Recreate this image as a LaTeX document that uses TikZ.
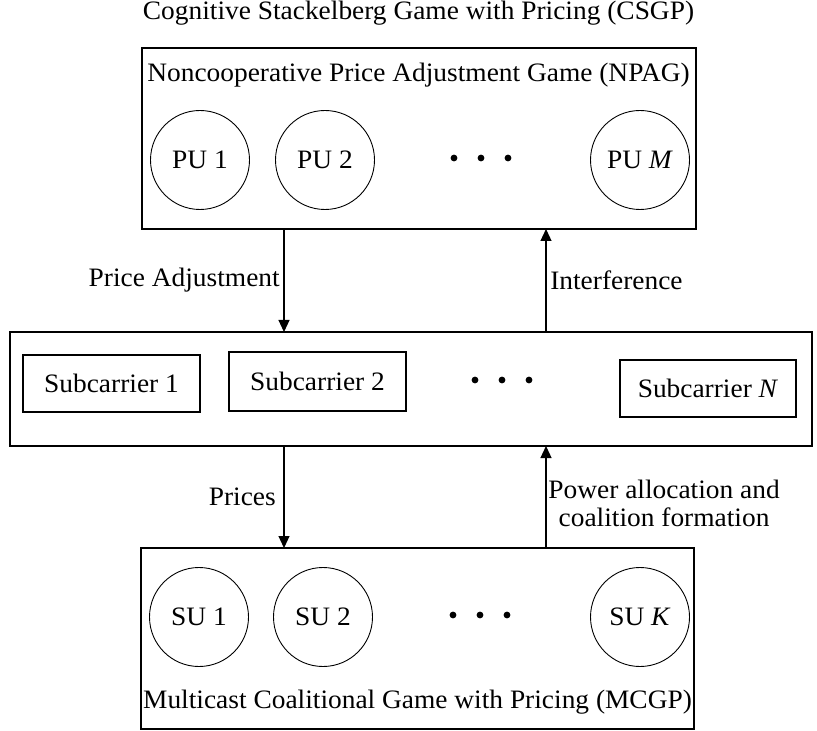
\documentclass[tikz,border=0pt]{standalone}
\usepackage{fontspec}
\setmainfont{Liberation Serif}[FakeStretch=1.03]
\usetikzlibrary{arrows.meta}
\begin{document}
\begin{tikzpicture}[x=0.5pt,y=-0.5pt,
    gamebox/.style={draw, line width=0.65pt, inner sep=0pt, outer sep=0pt},
    userc/.style={draw, circle, line width=0.45pt, minimum size=49.5pt, inner sep=0pt},
    subbox/.style={draw, line width=0.65pt, inner sep=0pt, outer sep=0pt, minimum width=88.5pt, minimum height=28.5pt},
    flow/.style={line width=0.6pt, -{Triangle[length=6pt,width=5.5pt]}},
    dotc/.style={circle, fill, inner sep=0pt, minimum size=3.4pt}]
\useasboundingbox (0,0) rectangle (817,731);%
{\fontsize{13.3}{15}\selectfont

% Drawing the leader game
\node (csgp) at (418.5,13) {Cognitive Stackelberg Game with Pricing (CSGP)};%
\node[gamebox, minimum width=277pt, minimum height=90.5pt] (npag) at (419,138.5) {};%
\node (npagt) at (418.5,75) {Noncooperative Price Adjustment Game (NPAG)};%
\node[userc] (pu1) at (200,160) {PU 1};%
\node[userc] (pu2) at (325,160) {PU 2};%
\node[dotc] (pd1) at (454,158) {};%
\node[dotc] (pd2) at (481,158) {};%
\node[dotc] (pd3) at (508,158) {};%
\node[userc] (pum) at (640,160) {PU \textit{M}};%

% Drawing the subcarriers
\node[gamebox, minimum width=401pt, minimum height=57pt] (sub) at (411,389) {};%
\node[subbox] (sub1) at (111.5,383.5) {Subcarrier 1};%
\node[subbox, minimum height=29.5pt] (sub2) at (317.5,381.5) {Subcarrier 2};%
\node[dotc] (sd1) at (475,380) {};%
\node[dotc] (sd2) at (502,380) {};%
\node[dotc] (sd3) at (529,380) {};%
\node[subbox, minimum width=88pt] (subn) at (708,388.5) {Subcarrier \textit{N}};%

% Drawing the follower game
\node[gamebox, minimum width=276.5pt, minimum height=90.5pt] (mcgp) at (417.5,638.5) {};%
\node[userc] (su1) at (199,617) {SU 1};%
\node[userc] (su2) at (323,617) {SU 2};%
\node[dotc] (qd1) at (453,615) {};%
\node[dotc] (qd2) at (480,615) {};%
\node[dotc] (qd3) at (507,615) {};%
\node[userc] (suk) at (640,617) {SU \textit{K}};%
\node (mcgpt) at (417.5,702) {Multicast Coalitional Game with Pricing (MCGP)};%

% Drawing the flows between the games
\coordinate (down) at (284,0);%
\coordinate (up) at (546,0);%
\draw[flow] (npag.south -| down) -- (sub.north -| down);%
\draw[flow] (sub.north -| up) -- (npag.south -| up);%
\draw[flow] (sub.south -| down) -- (mcgp.north -| down);%
\draw[flow] (mcgp.north -| up) -- (sub.south -| up);%
\node[anchor=east] (padj) at (289,280) {Price Adjustment};%
\node[anchor=west] (intf) at (541,280) {Interference};%
\node[anchor=east] (prices) at (285,497) {Prices};%
\node[anchor=west, align=center, inner xsep=2pt] (power) at (544,503) {Power allocation and\\[-1pt]coalition formation};%
}
\end{tikzpicture}
\end{document}
